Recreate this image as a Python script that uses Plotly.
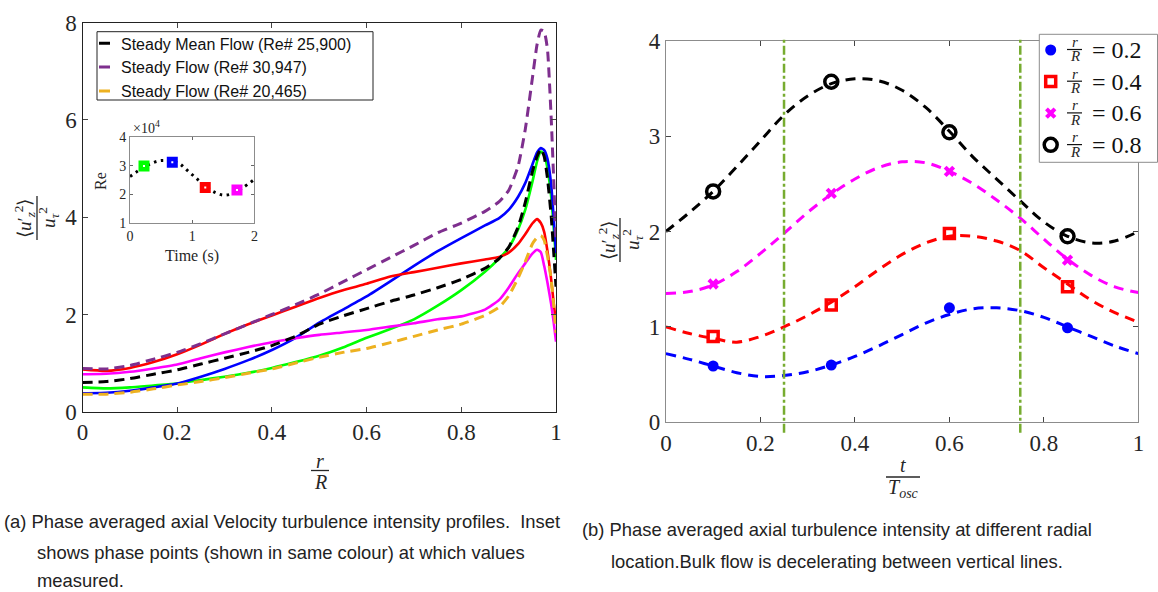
import plotly.graph_objects as go

W, H = 1158, 592


def px(x):
    return x / W


def py(y):
    return 1 - y / H


# ---------------- data: left panel (profiles) ----------------
r_pos = [0, 0.05, 0.1, 0.15, 0.2, 0.25, 0.3, 0.35, 0.4, 0.45, 0.5, 0.55, 0.6, 0.65, 0.7,
         0.75, 0.8, 0.85, 0.88, 0.9, 0.92, 0.935, 0.95, 0.96, 0.968, 0.975, 0.982, 0.99, 0.995, 1.0]

phase_green = [0.5, 0.48, 0.5, 0.54, 0.58, 0.65, 0.72, 0.8, 0.9, 1.02, 1.15, 1.32, 1.52, 1.7, 1.9,
               2.18, 2.5, 2.88, 3.15, 3.37, 3.75, 4.15, 4.72, 5.15, 5.35, 5.3, 5.0, 4.4, 3.8, 3.12]
phase_blue = [0.38, 0.39, 0.43, 0.5, 0.58, 0.72, 0.88, 1.06, 1.27, 1.52, 1.83, 2.1, 2.37, 2.68, 3.0,
              3.3, 3.57, 3.83, 3.98, 4.15, 4.42, 4.7, 5.08, 5.33, 5.42, 5.38, 5.2, 4.65, 4.0, 3.26]
phase_red = [0.87, 0.84, 0.9, 1.02, 1.18, 1.38, 1.6, 1.8, 1.98, 2.16, 2.34, 2.5, 2.63, 2.78, 2.87,
             2.96, 3.05, 3.13, 3.18, 3.27, 3.45, 3.65, 3.87, 3.96, 3.88, 3.7, 3.3, 2.7, 2.25, 1.82]
phase_magenta = [0.77, 0.78, 0.82, 0.89, 0.97, 1.1, 1.22, 1.33, 1.43, 1.51, 1.58, 1.63, 1.68, 1.75, 1.82,
                 1.9, 1.96, 2.1, 2.3, 2.55, 2.85, 3.05, 3.25, 3.33, 3.28, 3.0, 2.65, 2.2, 1.85, 1.44]
steady_mean = [0.6, 0.62, 0.68, 0.77, 0.86, 0.98, 1.1, 1.22, 1.36, 1.55, 1.8, 1.97, 2.12, 2.27, 2.4,
               2.55, 2.72, 2.95, 3.15, 3.38, 3.8, 4.3, 4.93, 5.25, 5.4, 5.25, 4.8, 4.0, 3.3, 2.57]
steady_high = [0.89, 0.88, 0.95, 1.08, 1.22, 1.4, 1.6, 1.8, 2.0, 2.2, 2.42, 2.67, 2.92, 3.17, 3.42,
               3.68, 3.88, 4.12, 4.32, 4.55, 5.05, 5.8, 6.85, 7.55, 7.85, 7.82, 7.45, 6.0, 4.8, 3.5]
steady_low = [0.36, 0.36, 0.4, 0.47, 0.55, 0.62, 0.7, 0.79, 0.88, 1.0, 1.12, 1.22, 1.3, 1.42, 1.55,
              1.68, 1.8, 1.98, 2.15, 2.38, 2.75, 3.08, 3.45, 3.58, 3.62, 3.53, 3.2, 2.7, 2.2, 1.62]

legend_left = ["Steady Mean Flow (Re# 25,900)", "Steady Flow (Re# 30,947)", "Steady Flow (Re# 20,465)"]

# inset: bulk Reynolds number over one oscillation
inset_time = [0, 0.13, 0.29, 0.46, 0.59, 0.78, 0.91, 1.05, 1.18, 1.34, 1.5, 1.66, 1.82, 2.0]
inset_re = [2.62, 2.82, 3.03, 3.17, 3.18, 3.09, 2.86, 2.59, 2.35, 2.09, 1.97, 2.03, 2.24, 2.52]
phase_time = [0.225, 0.68, 1.21, 1.72]
phase_re = [2.99, 3.12, 2.24, 2.15]
phase_colors = ["#00FF00", "#0000FF", "#FF0000", "#FF00FF"]

# ---------------- data: right panel (phase variation) ----------------
t_fit = [0, 0.05, 0.1, 0.15, 0.2, 0.25, 0.3, 0.35, 0.4, 0.45, 0.5, 0.55, 0.6, 0.65, 0.7,
         0.75, 0.8, 0.85, 0.9, 0.95, 1.0]
fit_02 = [0.72, 0.66, 0.59, 0.52, 0.48, 0.49, 0.53, 0.6, 0.69, 0.8, 0.92, 1.04, 1.13, 1.19, 1.2,
          1.17, 1.1, 1.0, 0.9, 0.8, 0.72]
fit_04 = [1.0, 0.93, 0.88, 0.84, 0.9, 1.0, 1.12, 1.26, 1.42, 1.6, 1.76, 1.88, 1.95, 1.95, 1.9,
          1.8, 1.62, 1.45, 1.28, 1.15, 1.05]
fit_06 = [1.35, 1.37, 1.44, 1.58, 1.77, 1.98, 2.2, 2.39, 2.55, 2.67, 2.73, 2.72, 2.63, 2.5, 2.33,
          2.14, 1.92, 1.71, 1.54, 1.42, 1.36]
fit_08 = [2.0, 2.2, 2.42, 2.68, 2.95, 3.22, 3.42, 3.55, 3.6, 3.58, 3.48, 3.3, 3.05, 2.78, 2.55,
          2.32, 2.1, 1.95, 1.88, 1.9, 2.0]

t_meas = [0.1, 0.35, 0.6, 0.85]
meas_02 = [0.59, 0.6, 1.2, 0.99]
meas_04 = [0.9, 1.23, 1.98, 1.42]
meas_06 = [1.45, 2.4, 2.63, 1.7]
meas_08 = [2.42, 3.57, 3.04, 1.95]
radial_labels = ["0.2", "0.4", "0.6", "0.8"]
decel_bounds = [0.25, 0.75]

SERIF = "Liberation Serif, Times New Roman, serif"
SANS = "Liberation Sans, Arial, sans-serif"
TICKC = "#262626"

fig = go.Figure()

# left: phase-averaged solid profiles
for vals, col in zip([phase_green, phase_blue, phase_red, phase_magenta], phase_colors):
    fig.add_trace(go.Scatter(x=r_pos, y=vals, mode="lines", showlegend=False,
                             line=dict(color=col, width=2.6, shape="spline", smoothing=0.5),
                             xaxis="x", yaxis="y", hoverinfo="skip"))

# left: steady dashed profiles (legend entries drawn with short MATLAB-like dash)
dashed = [(steady_high, "#7E2F8E", legend_left[1], 2),
          (steady_low, "#EDB120", legend_left[2], 3),
          (steady_mean, "#000000", legend_left[0], 1)]
for vals, col, name, rank in dashed:
    fig.add_trace(go.Scatter(x=r_pos, y=vals, mode="lines", showlegend=False,
                             line=dict(color=col, width=3, dash="10px,6px", shape="spline", smoothing=0.5),
                             xaxis="x", yaxis="y"))
for vals, col, name, rank in dashed:
    fig.add_trace(go.Scatter(x=[None], y=[None], mode="lines", name=name, legendrank=rank,
                             line=dict(color=col, width=3, dash="0px,13px,11px,200px"),
                             xaxis="x", yaxis="y", legend="legend"))

# inset
fig.add_trace(go.Scatter(x=inset_time, y=inset_re, mode="lines", showlegend=False,
                         line=dict(color="black", width=3, dash="2.5px,4.5px", shape="spline"),
                         xaxis="x3", yaxis="y3"))
fig.add_trace(go.Scatter(x=phase_time, y=phase_re, mode="markers", showlegend=False,
                         marker=dict(symbol="square", size=11, color=phase_colors),
                         xaxis="x3", yaxis="y3"))
fig.add_trace(go.Scatter(x=phase_time, y=phase_re, mode="markers", showlegend=False,
                         marker=dict(symbol="square", size=2, color="white"),
                         xaxis="x3", yaxis="y3"))

# right: fitted dashed curves
fit_cols = ["#0000FF", "#FF0000", "#FF00FF", "#000000"]
for vals, col in zip([fit_02, fit_04, fit_06, fit_08], fit_cols):
    fig.add_trace(go.Scatter(x=t_fit, y=vals, mode="lines", showlegend=False,
                             line=dict(color=col, width=3, dash="10px,7px", shape="spline"),
                             xaxis="x2", yaxis="y2"))

# right: measured points
marker_styles = [
    dict(symbol="circle", size=11, color="#0000FF"),
    dict(symbol="square-open", size=10, color="#FF0000", line=dict(width=3.5, color="#FF0000")),
    dict(symbol="x", size=10, color="#FF00FF", line=dict(width=0)),
    dict(symbol="circle-open", size=13, color="#000000", line=dict(width=3.5, color="#000000")),
]
for vals, lab, ms in zip([meas_02, meas_04, meas_06, meas_08], radial_labels, marker_styles):
    fig.add_trace(go.Scatter(x=t_meas, y=vals, mode="markers", marker=ms,
                             name="\u2002",
                             xaxis="x2", yaxis="y2", legend="legend2"))

axis_common = dict(showgrid=False, zeroline=False, showline=True, mirror="allticks",
                   ticks="inside", ticklen=5, tickcolor="#444",
                   tickfont=dict(family=SERIF, size=23, color=TICKC))

fig.update_layout(
    width=W, height=H, margin=dict(l=0, r=0, t=0, b=0, autoexpand=False),
    paper_bgcolor="white", plot_bgcolor="white",
    xaxis=dict(domain=[px(82.5), px(556)], range=[0, 1], dtick=0.2, anchor="y",
               linecolor="#222", linewidth=1.3, **axis_common),
    yaxis=dict(domain=[py(411.7), py(22.7)], range=[0, 8], dtick=2, anchor="x",
               linecolor="#222", linewidth=1.3, **axis_common),
    xaxis2=dict(domain=[px(665.9), px(1138.4)], range=[0, 1], dtick=0.2, anchor="y2",
                linecolor="#8c8c8c", linewidth=1, **axis_common),
    yaxis2=dict(domain=[py(422.3), py(40.7)], range=[0, 4], dtick=1, anchor="x2",
                linecolor="#8c8c8c", linewidth=1, **axis_common),
    xaxis3=dict(domain=[px(130), px(254.4)], range=[0, 2], dtick=1, anchor="y3",
                showgrid=False, zeroline=False, showline=True, mirror="allticks",
                ticks="inside", ticklen=3, linecolor="#8c8c8c", tickcolor="#666",
                tickfont=dict(family=SERIF, size=14, color=TICKC)),
    yaxis3=dict(domain=[py(222.7), py(137.3)], range=[1, 4], dtick=1, anchor="x3",
                showgrid=False, zeroline=False, showline=True, mirror="allticks",
                ticks="inside", ticklen=3, linecolor="#8c8c8c", tickcolor="#666",
                tickfont=dict(family=SERIF, size=14, color=TICKC)),
    legend=dict(x=px(81), y=py(26.4), xanchor="left", yanchor="top",
                bgcolor="rgba(0,0,0,0)", borderwidth=0,
                font=dict(family=SANS, size=16, color="#111"), itemwidth=30,
                tracegroupgap=0),
    legend2=dict(x=px(1030.7), y=py(29.2), xanchor="left", yanchor="top",
                 bgcolor="rgba(0,0,0,0)", borderwidth=0,
                 font=dict(family=SERIF, size=22, color="#111"), itemwidth=30),
    showlegend=True,
)

shapes = []
for xb in decel_bounds:
    shapes.append(dict(type="line", xref="x2", yref="paper", x0=xb, x1=xb,
                       y0=py(432.7), y1=py(37),
                       line=dict(color="#77AC30", width=2.5, dash="dashdot")))
# legend boxes
shapes.append(dict(type="rect", xref="paper", yref="paper", layer="above",
                   x0=px(97), x1=px(373), y0=py(100), y1=py(31.7),
                   fillcolor="white", line=dict(color="#222", width=1)))
shapes.append(dict(type="rect", xref="paper", yref="paper", layer="above",
                   x0=px(1039.3), x1=px(1157.5), y0=py(162.3), y1=py(34.3),
                   fillcolor="white", line=dict(color="#8c8c8c", width=1)))
# fraction bars of axis labels
frac_line = dict(color="#262626", width=1.3)
shapes += [
    dict(type="line", xref="paper", yref="paper", x0=px(311), x1=px(329), y0=py(470.5), y1=py(470.5), line=frac_line),
    dict(type="line", xref="paper", yref="paper", x0=px(886), x1=px(920), y0=py(477), y1=py(477), line=frac_line),
    dict(type="line", xref="paper", yref="paper", x0=px(37), x1=px(37), y0=py(196), y1=py(240), line=frac_line),
    dict(type="line", xref="paper", yref="paper", x0=px(620), x1=px(620), y0=py(218), y1=py(262), line=frac_line),
]


def ann(x, y, text, size, family=SERIF, angle=0, xanchor="center", color=TICKC):
    return dict(x=px(x), y=py(y), xref="paper", yref="paper", text=text, showarrow=False,
                textangle=angle, xanchor=xanchor, yanchor="middle",
                font=dict(family=family, size=size, color=color))


num_txt = "⟨<i>u</i>′<sub><i>z</i></sub><sup>2</sup>⟩"
den_txt = "<i>u</i><sub><i>τ</i></sub><sup>2</sup>"
CAP = 18.4
annotations = [
    ann(320, 461, "<i>r</i>", 20),
    ann(320, 482, "<i>R</i>", 20),
    ann(903, 465, "<i>t</i>", 20),
    ann(903, 488, "<i>T</i><sub><i>osc</i></sub>", 20),
    ann(25, 218, num_txt, 19, angle=-90),
    ann(49, 218, den_txt, 19, angle=-90),
    ann(608, 240, num_txt, 19, angle=-90),
    ann(632, 240, den_txt, 19, angle=-90),
    ann(131, 127, "×10<sup>4</sup>", 14, xanchor="left"),
    ann(101, 181, "Re", 16, angle=-90),
    ann(192, 256, "Time (s)", 16),
    ann(2, 521, "(a) Phase averaged axial Velocity turbulence intensity profiles.  Inset", CAP,
        family=SANS, xanchor="left", color="#222"),
    ann(35, 552, "shows phase points (shown in same colour) at which values", CAP,
        family=SANS, xanchor="left", color="#222"),
    ann(35, 580, "measured.", CAP, family=SANS, xanchor="left", color="#222"),
    ann(580, 529, "(b) Phase averaged axial turbulence intensity at different radial", CAP,
        family=SANS, xanchor="left", color="#222"),
    ann(609, 561, "location.Bulk flow is decelerating between vertical lines.", CAP,
        family=SANS, xanchor="left", color="#222"),
]
# right legend labels: r/R stacked fraction + value
for i, lab in enumerate(radial_labels):
    yc = 50 + 31.7 * i
    annotations.append(ann(1074.5, yc - 8, "<i>r</i>", 15))
    annotations.append(ann(1074.5, yc + 6.5, "<i>R</i>", 15))
    annotations.append(ann(1090, yc, "= " + lab, 24, xanchor="left", color="#111"))
    shapes.append(dict(type="line", xref="paper", yref="paper", x0=px(1067), x1=px(1082),
                       y0=py(yc - 0.5), y1=py(yc - 0.5), line=dict(color="#111", width=1.2)))

fig.update_layout(shapes=shapes, annotations=annotations)

fig.write_html("out.html", config={"displayModeBar": False},
               post_script="document.body.style.margin='0';document.body.style.overflow='hidden';")
